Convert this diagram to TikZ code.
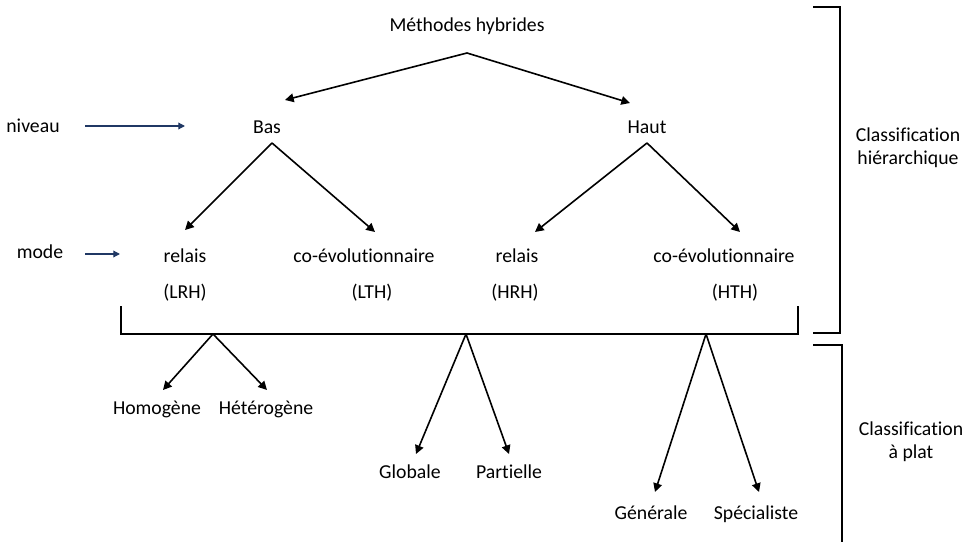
\documentclass[tikz,border=0pt]{standalone}
\usepackage{fontspec}
\setmainfont[Ligatures={NoCommon}]{Carlito}
\usetikzlibrary{arrows.meta}
\definecolor{navy}{HTML}{203864}
\begin{document}
\begin{tikzpicture}[x=0.75pt,y=-0.75pt,
  lbl/.style={inner sep=0pt,text height=10pt,text depth=3.5pt,font=\fontsize{14.8pt}{18pt}\selectfont,text=black},
  arr/.style={line width=1.2pt,-{Triangle[length=6.5pt,width=6.5pt]}},
  navyarr/.style={line width=0.9pt,draw=navy,-{Triangle[length=5pt,width=5pt]},navy},
  brk/.style={line width=1.2pt}]
\useasboundingbox (0,0) rectangle (968,542);
% texts
\node[lbl] (title) at (467,27) {Méthodes hybrides};
\node[lbl] (bas) at (267,129) {Bas};
\node[lbl] (haut) at (647,129) {Haut};
\node[lbl] (niveau) at (33,128) {niveau};
\node[lbl] (mode) at (40,254) {mode};
\node[lbl] (r1) at (185,258) {relais};
\node[lbl] (lrh) at (185,294) {(LRH)};
\node[lbl] (c1) at (364,258) {co-évolutionnaire};
\node[lbl] (lth) at (372,294) {(LTH)};
\node[lbl] (r2) at (517,258) {relais};
\node[lbl] (hrh) at (515,294) {(HRH)};
\node[lbl] (c2) at (724,258) {co-évolutionnaire};
\node[lbl] (hth) at (735,294) {(HTH)};
\node[lbl] (homo) at (157,410) {Homogène};
\node[lbl] (hete) at (266,410) {Hétérogène};
\node[lbl] (glob) at (410,474) {Globale};
\node[lbl] (part) at (509,474) {Partielle};
\node[lbl] (gene) at (651,515) {Générale};
\node[lbl] (spec) at (756,515) {Spécialiste};
\node[lbl] (ch1) at (908,137) {Classification};
\node[lbl] (ch2) at (908,160) {hiérarchique};
\node[lbl] (cp1) at (911,431) {Classification};
\node[lbl] (cp2) at (911,454) {à plat};
% apexes and tips
\coordinate (a0) at (467,53);
\coordinate (tb) at (285,100);
\coordinate (th) at (630,103);
\coordinate (a1) at (272,143);
\coordinate (t1) at (185,230);
\coordinate (t2) at (375,232);
\coordinate (a2) at (647,143);
\coordinate (t3) at (535,232);
\coordinate (t4) at (740,232);
\coordinate (nv1) at (85,126);
\coordinate (nv2) at (185,126);
\coordinate (md1) at (85,254);
\coordinate (md2) at (120,254);
\coordinate (b1) at (121,306);
\coordinate (b2) at (121,334);
\coordinate (b3) at (798,334);
\coordinate (b4) at (798,306);
\coordinate (p1) at (213,334);
\coordinate (u1) at (163,390);
\coordinate (u2) at (267,390);
\coordinate (p2) at (466,334);
\coordinate (u3) at (416,454);
\coordinate (u4) at (509,454);
\coordinate (p3) at (706,334);
\coordinate (u5) at (655,492);
\coordinate (u6) at (759,492);
\coordinate (h1) at (813,7);
\coordinate (h2) at (840,7);
\coordinate (h3) at (840,333);
\coordinate (h4) at (813,333);
\coordinate (f1) at (813,345);
\coordinate (f2) at (842,345);
\coordinate (f3) at (842,545);
% connectors
\draw[arr] (a0) -- (tb);
\draw[arr] (a0) -- (th);
\draw[arr] (a1) -- (t1);
\draw[arr] (a1) -- (t2);
\draw[arr] (a2) -- (t3);
\draw[arr] (a2) -- (t4);
\draw[navyarr] (nv1) -- (nv2);
\draw[navyarr] (md1) -- (md2);
\draw[brk] (b1) -- (b2) -- (b3) -- (b4);
\draw[arr] (p1) -- (u1);
\draw[arr] (p1) -- (u2);
\draw[arr] (p2) -- (u3);
\draw[arr] (p2) -- (u4);
\draw[arr] (p3) -- (u5);
\draw[arr] (p3) -- (u6);
\draw[brk] (h1) -- (h2) -- (h3) -- (h4);
\draw[brk] (f1) -- (f2) -- (f3);
\end{tikzpicture}
\end{document}
